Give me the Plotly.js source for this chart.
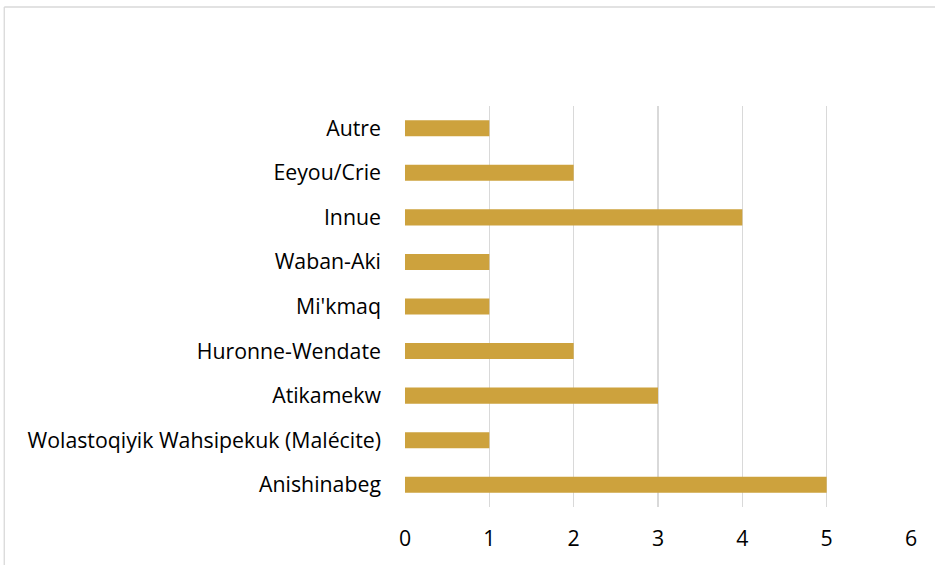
<!DOCTYPE html>
<html>
<head>
<meta charset="utf-8">
<script src="https://cdn.plot.ly/plotly-3.0.1.min.js"></script>
<style>
  html, body { margin: 0; padding: 0; background: #ffffff; }
  #chart { width: 935px; height: 565px; }
</style>
</head>
<body>
<div id="chart"></div>
<script>
// Nations, listed bottom to top as they appear on the axis
const nations = [
  "Anishinabeg",
  "Wolastoqiyik Wahsipekuk (Malécite)",
  "Atikamekw",
  "Huronne-Wendate",
  "Mi'kmaq",
  "Waban-Aki",
  "Innue",
  "Eeyou/Crie",
  "Autre"
];
const counts = [5, 1, 3, 2, 1, 1, 4, 2, 1];
const xTicks = [0, 1, 2, 3, 4, 5, 6];

const barColor = "#CDA23D";
const gridColor = "#D9D9D9";
const fontFamily = "'Open Sans', Lato, sans-serif";

const trace = {
  type: "bar",
  orientation: "h",
  y: nations,
  x: counts,
  marker: { color: barColor },
  hoverinfo: "x+y"
};

// Plot area spans these pixel edges inside the 935x565 canvas
const W = 935, H = 565;
const mL = 405, mR = 24.3, mT = 106, mB = 58;
const pw = W - mL - mR, ph = H - mT - mB;
// Outer chart frame (left and top edges visible)
const frameX = (4.5 - mL) / pw;
const frameY = (H - mB - 7) / ph;

const layout = {
  width: W,
  height: H,
  margin: { l: mL, r: mR, t: mT, b: mB, pad: 0 },
  paper_bgcolor: "#ffffff",
  plot_bgcolor: "#ffffff",
  showlegend: false,
  bargap: 0.64,
  font: { family: fontFamily, size: 21.3, color: "#000000" },
  xaxis: {
    range: [0, 6],
    tickvals: xTicks,
    showgrid: true,
    gridcolor: gridColor,
    gridwidth: 1.5,
    zeroline: false,
    showline: false,
    ticks: "",
    ticklabelstandoff: 17,
    fixedrange: true
  },
  yaxis: {
    type: "category",
    categoryorder: "array",
    categoryarray: nations,
    showgrid: false,
    zeroline: false,
    showline: false,
    ticks: "",
    ticklabelstandoff: 23,
    fixedrange: true
  },
  shapes: [
    {
      type: "line", xref: "paper", yref: "paper",
      x0: frameX, x1: frameX, y0: frameY, y1: -1,
      line: { color: gridColor, width: 1.3 }
    },
    {
      type: "line", xref: "paper", yref: "paper",
      x0: frameX, x1: 2, y0: frameY, y1: frameY,
      line: { color: gridColor, width: 1.3 }
    }
  ]
};

Plotly.newPlot("chart", [trace], layout, { displayModeBar: false, staticPlot: true });
</script>
</body>
</html>
